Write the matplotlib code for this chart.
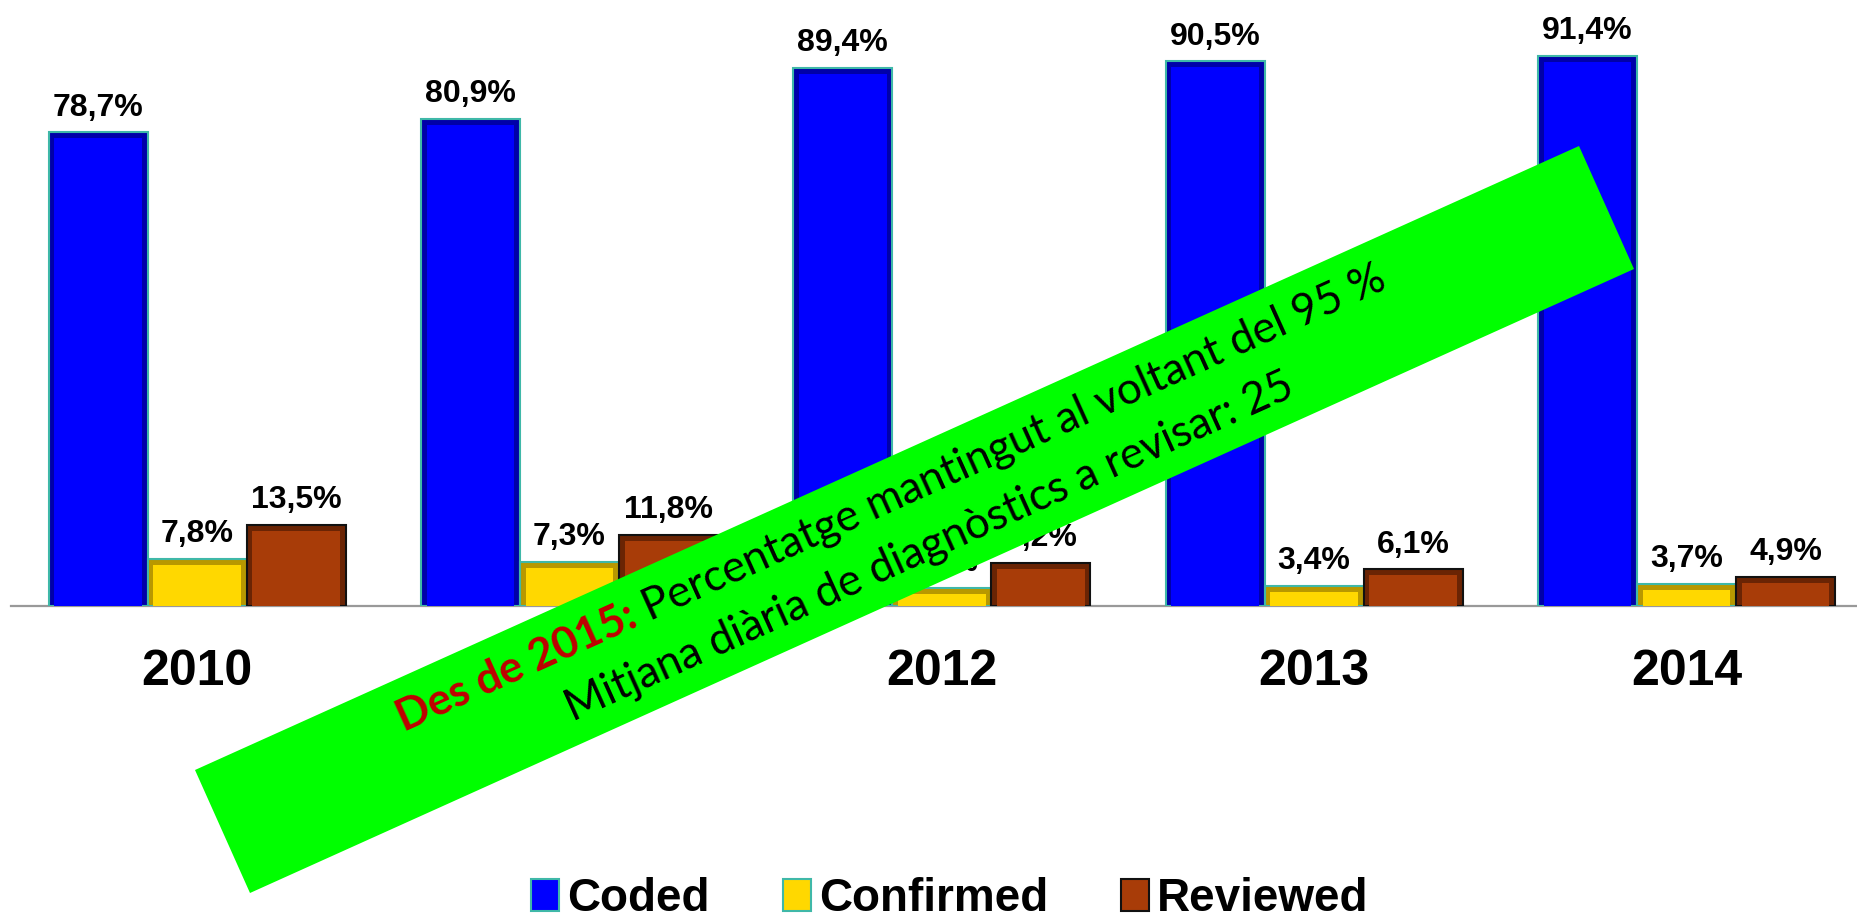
import math
import matplotlib
matplotlib.use("Agg")
import matplotlib.pyplot as plt
from matplotlib.patches import Polygon, Patch
import numpy as np

plt.rcParams['font.family'] = ['Liberation Sans', 'DejaVu Sans']

years = ['2010', '2011', '2012', '2013', '2014']
coded = [78.7, 80.9, 89.4, 90.5, 91.4]
confirmed = [7.8, 7.3, 3.0, 3.4, 3.7]
reviewed = [13.5, 11.8, 7.2, 6.1, 4.9]
series_names = ['Coded', 'Confirmed', 'Reviewed']

banner_red = 'Des de 2015:'
banner_line1 = ' Percentatge mantingut al voltant del 95 %'
banner_line2 = 'Mitjana diària de diagnòstics a revisar: 25'

# colours: (main face, darker bevel, outline)
STYLES = [
    ('#0000FF', '#0000A8', '#3FB8A8'),
    ('#FFD800', '#B89800', '#3FB8A8'),
    ('#A83C08', '#6A2404', '#111111'),
]

W, H = 1857, 923
fig = plt.figure(figsize=(W / 100, H / 100), dpi=100)
fig.patch.set_facecolor('white')
ax = fig.add_axes([11 / W, (H - 606) / H, 1 - 11 / W, 602 / H])

x = np.arange(len(years))
width = 0.266
all_series = [coded, confirmed, reviewed]

for k, vals in enumerate(all_series):
    face, dark, edge = STYLES[k]
    pos = x + (k - 1) * width
    ax.bar(pos, vals, width, color=dark, edgecolor=edge, linewidth=1.5, zorder=3)
    # inner face to mimic the bevel
    inner_h = [max(v - 1.0, 0.3) for v in vals]
    ax.bar(pos, inner_h, width - 0.03, bottom=0.0, color=face, linewidth=0, zorder=4)
    for xi, v in zip(pos, vals):
        ax.annotate(f'{v:.1f}%'.replace('.', ','), (xi, v), xytext=(0, 12),
                    textcoords='offset points', ha='center', va='baseline',
                    fontsize=23, fontweight='bold', color='black', zorder=5)

ax.set_xlim(-0.5, 4.458)
ax.set_ylim(0, 100)
ax.set_yticks([])
ax.set_xticks(x)
ax.set_xticklabels(years, fontsize=36, fontweight='bold')
ax.tick_params(axis='x', length=0, pad=31)
for s in ['top', 'right', 'left']:
    ax.spines[s].set_visible(False)
ax.spines['bottom'].set_color('#999999')
ax.spines['bottom'].set_linewidth(1.6)
ax.set_facecolor('none')

handles = [Patch(facecolor=STYLES[k][0], edgecolor=STYLES[k][2], linewidth=1.5)
           for k in range(3)]
fig.legend(handles, series_names, loc='center', bbox_to_anchor=(0.5116, 0.026),
           ncol=3, frameon=False, prop={'size': 33, 'weight': 'bold'},
           handlelength=0.6, handleheight=0.72, handletextpad=0.18,
           columnspacing=1.6, borderaxespad=0)

# green banner
corners = [(195, 770), (1579, 146), (1634, 269), (250, 893)]
poly = Polygon([(cx / W, 1 - cy / H) for cx, cy in corners], closed=True,
               transform=fig.transFigure, facecolor='#00FF00', edgecolor='none',
               zorder=10)
fig.patches.append(poly)

ang = math.degrees(math.atan2(770 - 146, 1579 - 195))
ca, sa = math.cos(math.radians(ang)), math.sin(math.radians(ang))

fig.canvas.draw()
renderer = fig.canvas.get_renderer()


def text_width(s, **kw):
    t = fig.text(0, 0, s, **kw)
    w = t.get_window_extent(renderer).width
    t.remove()
    return w


FAM = ['Lato', 'DejaVu Sans']
base = 30
w_red = text_width(banner_red, fontsize=base, family=FAM, fontweight='bold')
w_l1 = text_width(banner_line1, fontsize=base, family=FAM)
w_l2 = text_width(banner_line2, fontsize=base, family=FAM)
scale = (1075 + 794) / (w_red + w_l1 + w_l2)
fs = base * scale
w_red, w_l1, w_l2 = w_red * scale, w_l1 * scale, w_l2 * scale


def place(cx, cy, dist):
    px = cx + ca * dist
    py = cy - sa * dist
    return px / W, 1 - py / H


c1 = (895, 511)
c2 = (934, 559)
tot1 = w_red + w_l1
kw = dict(rotation=ang, rotation_mode='anchor', ha='left', va='baseline',
          transform=fig.transFigure, zorder=11, family=FAM, fontsize=fs)
fig.text(*place(c1[0], c1[1], -tot1 / 2), banner_red, color='#C00000',
         fontweight='bold', **kw)
fig.text(*place(c1[0], c1[1], -tot1 / 2 + w_red), banner_line1, color='black', **kw)
fig.text(*place(c2[0], c2[1], -w_l2 / 2), banner_line2, color='black', **kw)

fig.savefig('out.png', dpi=100, facecolor='white')
